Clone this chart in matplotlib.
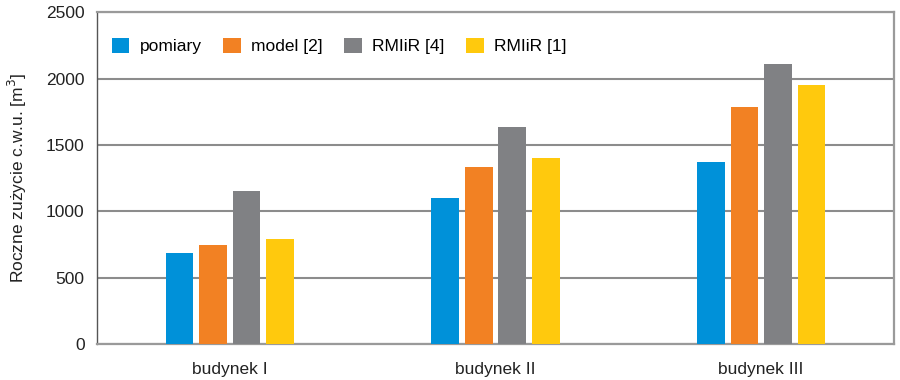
import numpy as np
import matplotlib
matplotlib.use("Agg")
import matplotlib.pyplot as plt
from matplotlib import font_manager

# data
buildings = ["budynek I", "budynek II", "budynek III"]
series = ["pomiary", "model [2]", "RMIiR [4]", "RMIiR [1]"]
pomiary = [683, 1102, 1372]
model = [745, 1331, 1782]
rmiir4 = [1150, 1632, 2106]
rmiir1 = [788, 1398, 1950]
yticks = [0, 500, 1000, 1500, 2000, 2500]

colors = ["#0091d9", "#f28123", "#808184", "#ffc90d"]

names = {f.name for f in font_manager.fontManager.ttflist}
fam = "Liberation Sans Narrow" if "Liberation Sans Narrow" in names else "Liberation Sans"
plt.rcParams["font.family"] = [fam, "DejaVu Sans"]

fig = plt.figure(figsize=(9, 3.8), dpi=100)
ax = fig.add_axes([0.1078, 0.0947, 0.8855, 0.8733])

x = np.arange(len(buildings))
step, width = 0.1264, 0.104
for i, (vals, name) in enumerate(zip([pomiary, model, rmiir4, rmiir1], series)):
    ax.bar(x + (i - 1.5) * step, vals, width, color=colors[i], label=name, zorder=3)

ax.set_xlim(-0.5, 2.5)
ax.set_ylim(0, 2500)
ax.set_yticks(yticks)
ax.set_xticks(x)
ax.set_xticklabels(buildings)
ax.tick_params(length=0, labelsize=12.5, colors="#222222")
ax.tick_params(axis="y", pad=9)
ax.tick_params(axis="x", pad=13)
ax.yaxis.grid(True, color="#8c8c8c", lw=1.5, zorder=1)

for s in ["top", "right", "bottom"]:
    ax.spines[s].set_color("#9a9a9a")
    ax.spines[s].set_linewidth(1.6)
ax.spines["left"].set_color("#555555")
ax.spines["left"].set_linewidth(1.0)

ax.set_ylabel("Roczne zużycie c.w.u. [m$^3$]", fontsize=12.5, color="#222222", labelpad=12)

ax.legend(loc="upper left", bbox_to_anchor=(-0.001, 0.97), ncol=4, frameon=False,
          fontsize=12.5, handlelength=1.0, handleheight=1.0, handletextpad=0.6,
          columnspacing=1.25)

fig.savefig("out.png", dpi=100, facecolor="white")
